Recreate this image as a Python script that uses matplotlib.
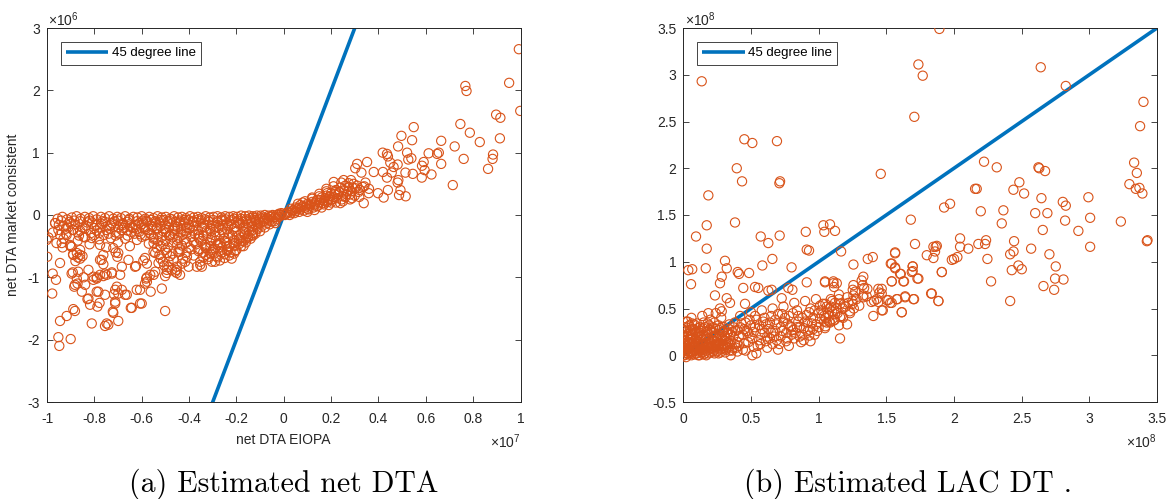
import matplotlib
matplotlib.use("Agg")
import matplotlib.pyplot as plt
from matplotlib.ticker import FuncFormatter

# ---------------- data: left panel (x in 1e7, y in 1e6) ----------------
L_top = [(-0.955,-0.06),(-0.935,-0.03),(-0.915,-0.07),(-0.895,-0.04),(-0.875,-0.02),(-0.858,-0.06),(-0.84,-0.03),(-0.822,-0.05),
         (-0.805,-0.02),(-0.79,-0.07),(-0.772,-0.03),(-0.755,-0.05),(-0.738,-0.02),(-0.72,-0.06),(-0.703,-0.03),(-0.688,-0.05),
         (-0.67,-0.02),(-0.652,-0.06),(-0.635,-0.03),(-0.618,-0.04),(-0.6,-0.02),(-0.585,-0.06),(-0.568,-0.03),(-0.55,-0.05),
         (-0.533,-0.02),(-0.515,-0.04),(-0.498,-0.03),(-0.48,-0.06),(-0.463,-0.02),(-0.446,-0.04),(-0.43,-0.03),(-0.413,-0.05),
         (-0.396,-0.02),(-0.38,-0.04),(-0.363,-0.03),(-0.347,-0.05),(-0.33,-0.02),(-0.313,-0.04),(-0.297,-0.03),(-0.28,-0.02),
         (-0.263,-0.04),(-0.247,-0.02),(-0.23,-0.03),(-0.213,-0.02),(-0.197,-0.03),(-0.18,-0.01),(-0.163,-0.02),(-0.147,-0.01),
         (-0.13,-0.02),(-0.113,-0.01),(-0.097,-0.01),(-0.08,0.0),(-0.063,-0.01),(-0.047,0.0),(-0.03,0.0),(-0.015,0.0),
         (-0.02,0.02),(-0.01,0.03),(0.0,0.01)]
L_row2 = [(-0.965,-0.13),(-0.93,-0.18),(-0.905,-0.11),(-0.88,-0.15),(-0.86,-0.1),(-0.835,-0.17),(-0.81,-0.12),(-0.79,-0.16),
          (-0.765,-0.1),(-0.745,-0.18),(-0.725,-0.13),(-0.7,-0.09),(-0.68,-0.16),(-0.66,-0.11),(-0.64,-0.19),(-0.62,-0.1),
          (-0.6,-0.15),(-0.58,-0.09),(-0.56,-0.17),(-0.54,-0.12),(-0.52,-0.08),(-0.5,-0.15),(-0.48,-0.1),(-0.46,-0.18),
          (-0.44,-0.12),(-0.42,-0.08),(-0.4,-0.16),(-0.38,-0.11),(-0.36,-0.07),(-0.34,-0.14),(-0.32,-0.09),(-0.3,-0.17),
          (-0.28,-0.1),(-0.26,-0.07),(-0.24,-0.13),(-0.22,-0.08),(-0.2,-0.12),(-0.18,-0.06),(-0.16,-0.1),(-0.14,-0.05),
          (-0.12,-0.08),(-0.1,-0.04),(-0.08,-0.06),(-0.06,-0.03),(-0.04,-0.04)]
L_row3 = [(-0.975,-0.28),(-0.952,-0.24),(-0.92,-0.3),(-0.89,-0.24),(-0.865,-0.33),(-0.84,-0.22),(-0.815,-0.29),(-0.79,-0.25),
          (-0.76,-0.32),(-0.735,-0.22),(-0.71,-0.28),(-0.685,-0.24),(-0.66,-0.33),(-0.635,-0.21),(-0.61,-0.27),(-0.585,-0.23),
          (-0.56,-0.31),(-0.535,-0.21),(-0.51,-0.26),(-0.485,-0.33),(-0.46,-0.22),(-0.435,-0.28),(-0.41,-0.2),(-0.385,-0.25),
          (-0.36,-0.31),(-0.335,-0.2),(-0.31,-0.26),(-0.285,-0.19),(-0.26,-0.24),(-0.235,-0.18),(-0.21,-0.22),(-0.185,-0.16),
          (-0.16,-0.19),(-0.135,-0.13),(-0.11,-0.15),(-0.085,-0.1),(-0.06,-0.09)]
L_row4 = [(-0.96,-0.45),(-0.93,-0.38),(-0.9,-0.5),(-0.87,-0.41),(-0.84,-0.36),(-0.82,-0.47),(-0.78,-0.39),(-0.75,-0.52),
          (-0.73,-0.37),(-0.7,-0.44),(-0.67,-0.38),(-0.65,-0.5),(-0.62,-0.4),(-0.6,-0.35),(-0.57,-0.46),(-0.55,-0.38),
          (-0.52,-0.5),(-0.5,-0.41),(-0.47,-0.36),(-0.45,-0.47),(-0.42,-0.39),(-0.4,-0.52),(-0.38,-0.43),(-0.36,-0.36),
          (-0.33,-0.48),(-0.31,-0.4),(-0.29,-0.33),(-0.27,-0.45),(-0.25,-0.37),(-0.23,-0.3),(-0.21,-0.4),(-0.19,-0.33),
          (-0.17,-0.27),(-0.15,-0.34),(-0.13,-0.24),(-0.11,-0.2),(-0.09,-0.17),(-0.07,-0.13),(-0.05,-0.1),(-0.03,-0.06),(-0.02,-0.03)]
L_rowA = [(-0.595,-0.09),(-0.578,-0.11),(-0.56,-0.08),(-0.543,-0.1),(-0.525,-0.12),(-0.508,-0.08),(-0.49,-0.1),(-0.473,-0.07),
          (-0.455,-0.11),(-0.438,-0.09),(-0.42,-0.12),(-0.403,-0.08),(-0.385,-0.1),(-0.368,-0.12),(-0.35,-0.09),(-0.333,-0.07),
          (-0.315,-0.11),(-0.298,-0.08),(-0.28,-0.12),(-0.263,-0.09),(-0.245,-0.07),(-0.228,-0.1),(-0.21,-0.06),(-0.193,-0.09),
          (-0.175,-0.11),(-0.158,-0.07),(-0.14,-0.09),(-0.123,-0.05),(-0.105,-0.07),(-0.088,-0.04),(-0.07,-0.05),(-0.053,-0.02),
          (-0.035,-0.03)]
L_rowB = [(-0.59,-0.2),(-0.572,-0.24),(-0.555,-0.19),(-0.537,-0.22),(-0.52,-0.18),(-0.502,-0.23),(-0.485,-0.2),(-0.467,-0.25),
          (-0.45,-0.19),(-0.432,-0.22),(-0.415,-0.26),(-0.397,-0.21),(-0.38,-0.18),(-0.362,-0.24),(-0.345,-0.2),(-0.327,-0.25),
          (-0.31,-0.22),(-0.292,-0.27),(-0.275,-0.21),(-0.257,-0.17),(-0.24,-0.23),(-0.222,-0.15),(-0.205,-0.19),(-0.187,-0.13),
          (-0.17,-0.2),(-0.152,-0.14),(-0.135,-0.18),(-0.117,-0.11),(-0.1,-0.13),(-0.082,-0.09),(-0.065,-0.07)]
L_rowC = [(-0.585,-0.33),(-0.567,-0.29),(-0.55,-0.36),(-0.532,-0.31),(-0.515,-0.35),(-0.497,-0.28),(-0.48,-0.33),(-0.462,-0.3),
          (-0.445,-0.37),(-0.427,-0.32),(-0.41,-0.29),(-0.392,-0.35),(-0.375,-0.31),(-0.357,-0.38),(-0.34,-0.33),(-0.322,-0.29),
          (-0.305,-0.36),(-0.287,-0.41),(-0.27,-0.32),(-0.252,-0.28),(-0.235,-0.36),(-0.217,-0.33),(-0.2,-0.27),(-0.182,-0.36),
          (-0.165,-0.31),(-0.147,-0.26),(-0.13,-0.29),(-0.112,-0.23)]
L_rowD = [(-0.55,-0.45),(-0.53,-0.42),(-0.51,-0.47),(-0.49,-0.52),(-0.47,-0.44),(-0.45,-0.4),(-0.43,-0.49),(-0.41,-0.44),
          (-0.39,-0.55),(-0.37,-0.47),(-0.35,-0.42),(-0.33,-0.51),(-0.31,-0.45),(-0.29,-0.54),(-0.27,-0.48),(-0.25,-0.42),
          (-0.23,-0.5),(-0.21,-0.45),(-0.19,-0.39),(-0.17,-0.42),(-0.15,-0.36),(-0.13,-0.33),
          (-0.5,-0.56),(-0.47,-0.62),(-0.44,-0.55),(-0.41,-0.6),(-0.38,-0.65),(-0.36,-0.58),(-0.33,-0.64),(-0.3,-0.6),
          (-0.28,-0.68),(-0.26,-0.6),(-0.24,-0.57),(-0.23,-0.65)]
L_farfill = [(-0.95,-0.16),(-0.92,-0.22),(-0.9,-0.14),(-0.87,-0.28),(-0.85,-0.2),(-0.83,-0.12),(-0.8,-0.21),(-0.78,-0.29),
             (-0.77,-0.14),(-0.75,-0.24),(-0.73,-0.17),(-0.71,-0.33),(-0.7,-0.2),(-0.68,-0.13),(-0.66,-0.25),(-0.65,-0.17),
             (-0.63,-0.3),(-0.62,-0.22),(-0.61,-0.13),
             (-0.94,-0.09),(-0.91,-0.2),(-0.885,-0.09),(-0.86,-0.25),(-0.82,-0.09),(-0.8,-0.32),(-0.775,-0.2),(-0.755,-0.11),
             (-0.74,-0.3),(-0.715,-0.1),(-0.695,-0.3),(-0.675,-0.21),(-0.655,-0.08),(-0.645,-0.27),(-0.625,-0.16),(-0.605,-0.31)]
L_cluster = [(-0.36,-0.55),(-0.34,-0.6),(-0.33,-0.53),(-0.31,-0.62),(-0.3,-0.56),(-0.285,-0.66),(-0.27,-0.58),(-0.26,-0.52),
             (-0.25,-0.63),(-0.235,-0.55),(-0.225,-0.6),(-0.21,-0.5),(-0.2,-0.56),(-0.19,-0.47),(-0.18,-0.42),(-0.17,-0.5),
             (-0.16,-0.38),(-0.22,-0.7),(-0.21,-0.62),(-0.32,-0.71),(-0.29,-0.75),(-0.27,-0.73),(-0.353,-0.8),(-0.353,-0.75),
             (-0.34,-0.68),(-0.315,-0.67),(-0.25,-0.69),(-0.24,-0.45),(-0.28,-0.48),(-0.31,-0.5),(-0.346,-0.83),(-0.304,-0.75),
             (-0.205,-0.58),(-0.134,-0.32),(-0.036,-0.13),(-0.18,-0.5),(-0.16,-0.44),(-0.14,-0.38),(-0.12,-0.3),(-0.1,-0.26),
             (-0.08,-0.2),(-0.06,-0.15),(-0.04,-0.1)]
L_fan = [(-1.001,-0.40),(-0.994,-0.36),(-0.999,-0.67),(-0.966,-0.13),(-0.945,-0.32),(-0.934,-0.52),(-0.945,-0.77),(-0.976,-0.94),
         (-0.962,-1.04),(-0.978,-1.26),(-0.945,-1.70),(-0.917,-1.62),(-0.952,-1.96),(-0.948,-2.10),(-0.9,-1.99),(-0.889,-1.51),
         (-0.882,-1.54),(-0.896,-0.94),(-0.874,-1.02),(-0.882,-1.12),(-0.853,-1.23),(-0.839,-1.12),(-0.825,-0.88),(-0.868,-0.91),
         (-0.874,-0.61),(-0.889,-0.64),(-0.896,-0.51),(-0.86,-0.64),(-0.938,-0.45),(-0.917,-0.32),(-0.889,-0.24),(-0.846,-0.35),
         (-0.811,-0.37),(-0.776,-0.48),(-0.769,-0.72),(-0.762,-0.64),(-0.825,-1.34),(-0.818,-1.44),(-0.811,-1.74),(-0.783,-1.23),
         (-0.755,-1.28),(-0.748,-1.74),(-0.755,-1.78),(-0.699,-1.70),(-0.722,-1.55),(-0.712,-1.42),(-0.804,-0.99),(-0.79,-1.02),
         (-0.776,-0.96),(-0.755,-0.94),(-0.726,-0.94),(-0.691,-0.96),(-0.705,-1.15),(-0.684,-1.20),(-0.663,-1.28),(-0.656,-0.72),
         (-0.684,-0.83),(-0.699,-0.61),(-0.703,-0.67),(-0.628,-0.83),(-0.621,-1.20),(-0.607,-1.42),(-0.642,-1.49),(-0.586,-0.69),
         (-0.581,-1.02),(-0.578,-1.07),(-0.564,-0.96),(-0.543,-0.91),(-0.543,-0.61),(-0.529,-0.77),(-0.515,-1.18),(-0.501,-1.54),
         (-0.487,-0.75),(-0.487,-0.83),(-0.473,-0.88),(-0.459,-0.91),(-0.438,-0.96),(-0.452,-0.83),(-0.416,-0.75),(-0.409,-0.67),
         (-0.445,-0.59),(-0.494,-0.61),(-0.367,-0.83),(-0.89,-0.63),(-0.87,-0.68),(-0.86,-0.70),(-0.85,-0.66),(-0.88,-0.74),
         (-0.903,-0.48),(-0.86,-0.56),(-0.891,-0.92),(-0.846,-1.0),(-0.885,-1.15),(-0.871,-1.10),(-0.829,-1.35),(-0.79,-1.23),
         (-0.804,-1.04),(-0.79,-1.0),(-0.762,-0.98),(-0.748,-0.96),(-0.778,-1.41),(-0.787,-1.47),(-0.741,-1.76),(-0.72,-1.57),
         (-0.712,-1.39),(-0.712,-1.2),(-0.699,-1.26),(-0.717,-1.27),(-0.67,-1.28),(-0.726,-0.92),(-0.776,-0.72),(-0.762,-0.79),
         (-0.72,-0.53),(-0.71,-0.6),(-0.624,-0.82),(-0.578,-0.78),(-0.593,-0.73),(-0.607,-1.2),(-0.586,-1.1),(-0.578,-1.0),
         (-0.6,-1.42),(-0.646,-1.49),(-0.562,-1.23),(-0.55,-0.96),(-0.55,-0.59),(-0.536,-0.53),(-0.525,-0.64),(-0.52,-0.70),
         (-0.51,-0.75),(-0.505,-0.81),(-0.494,-0.88),(-0.48,-0.66),(-0.466,-0.72),(-0.452,-0.88),(-0.452,-0.93),(-0.494,-0.93),
         (-0.501,-0.98),(-0.44,-0.59),(-0.426,-0.70),(-0.43,-0.78),(-0.402,-0.83)]
L_posband = [(0.01,0.02),(0.02,0.05),(0.03,0.03),(0.04,0.08),(0.05,0.06),(0.06,0.11),(0.07,0.09),(0.08,0.14),(0.09,0.12),
             (0.1,0.18),(0.11,0.15),(0.12,0.21),(0.13,0.17),(0.14,0.24),(0.15,0.2),(0.16,0.28),(0.17,0.23),(0.18,0.31),
             (0.19,0.26),(0.2,0.35),(0.21,0.29),(0.22,0.4),(0.23,0.33),(0.24,0.44),(0.25,0.3),(0.26,0.47),(0.12,0.26),
             (0.15,0.3),(0.08,0.2),(0.18,0.38),(0.05,0.12),(0.1,0.1),(0.14,0.14),(0.17,0.17),(0.2,0.2),(0.03,0.1),
             (0.07,0.16),(0.27,0.38),(0.28,0.33),(0.29,0.44),
             (0.005,0.0),(0.015,0.04),(0.025,0.0),(0.035,0.06),(0.045,0.03),(0.055,0.09),(0.065,0.05),(0.075,0.12),
             (0.085,0.07),(0.095,0.15),(0.105,0.09),(0.115,0.18),(0.125,0.12),(0.135,0.2),(0.145,0.15),(0.155,0.24),
             (0.165,0.19),(0.175,0.27),(0.185,0.21),(0.195,0.3),(0.205,0.25),(0.215,0.34),(0.225,0.27),(0.235,0.37),
             (0.245,0.25),(0.255,0.4),(0.265,0.33),(0.275,0.45),(0.285,0.38),(0.295,0.5),(0.3,0.31),(0.31,0.47),
             (0.32,0.4),(0.34,0.46),(0.36,0.42),(0.1,0.05),(0.13,0.08),(0.16,0.12),(0.19,0.16),(0.22,0.2),(0.25,0.22),
             (0.28,0.25),(0.06,0.18),(0.09,0.22),(0.12,0.28),(0.15,0.34),(0.18,0.42),(0.21,0.46)]
L_posout = [(0.993,2.66),(0.952,2.12),(0.767,2.07),(0.772,1.99),(0.999,1.67),(0.897,1.61),(0.915,1.56),(0.746,1.46),
            (0.786,1.32),(0.828,1.17),(0.913,1.23),(0.722,1.10),(0.665,1.19),(0.549,1.41),(0.497,1.27),(0.542,1.20),
            (0.483,1.10),(0.521,1.00),(0.526,0.89),(0.539,0.91),(0.418,1.00),(0.436,0.98),(0.44,0.94),(0.612,0.99),
            (0.648,0.98),(0.655,1.0),(0.665,0.82),(0.76,0.90),(0.884,0.97),(0.882,0.90),(0.863,0.74),(0.714,0.48),
            (0.591,0.85),(0.584,0.79),(0.595,0.72),(0.624,0.65),(0.583,0.60),(0.545,0.66),(0.514,0.68),(0.481,0.81),
            (0.464,0.77),(0.45,0.84),(0.456,0.68),(0.484,0.56),(0.481,0.52),(0.493,0.40),(0.515,0.30),(0.487,0.32),
            (0.44,0.40),(0.422,0.28),(0.419,0.69),(0.436,0.60),(0.398,0.35),(0.352,0.85),(0.31,0.82),(0.302,0.75),
            (0.328,0.68),(0.38,0.69),(0.345,0.52),(0.333,0.45),(0.359,0.35),(0.338,0.19),(0.319,0.29),(0.288,0.27),
            (0.274,0.51),(0.284,0.56),(0.253,0.56),(0.243,0.52),(0.211,0.53),(0.218,0.37),(0.239,0.19),(0.26,0.29),
            (0.302,0.43),(0.316,0.37),(0.197,0.24),(0.183,0.35)]
L_groups = [L_top, L_row2, L_row3, L_row4, L_rowA, L_rowB, L_rowC, L_rowD, L_farfill,
            L_cluster, L_fan, L_posband, L_posout]

# ---------------- data: right panel (x in 1e8, y in 1e8) ----------------
R_origin = [(0.0,0.0),(0.01,0.05),(0.02,0.1),(0.01,0.15),(0.03,0.02),(0.04,0.07),(0.03,0.2),(0.05,0.13),(0.06,0.0),
            (0.07,0.04),(0.06,0.18),(0.08,0.09),(0.09,0.24),(0.1,0.02),(0.11,0.14),(0.12,0.06),(0.13,0.2),(0.14,0.1),
            (0.15,0.01),(0.16,0.16),(0.17,0.05),(0.18,0.25),(0.19,0.12),(0.2,0.03),(0.21,0.19),(0.22,0.08),(0.23,0.15),
            (0.24,0.28),(0.25,0.04),(0.26,0.11),(0.27,0.22),(0.28,0.07),(0.29,0.17),(0.3,0.3),(0.02,0.3),(0.05,0.27),
            (0.08,0.33),(0.12,0.3),(0.15,0.35),(0.0,0.22),(0.0,0.08),(0.02,-0.02),(0.04,0.04),(0.08,0.01),(0.12,0.0),
            (0.16,0.08),(0.1,0.08),(0.14,0.03),(0.04,0.12),(0.07,0.22),(0.02,0.36),(0.06,0.4),(0.1,0.34),(0.14,0.42),
            (0.2,0.38),(0.24,0.45),(0.28,0.4),(0.0,0.3)]
R_origin2 = [(0.01,0.0),(0.03,0.08),(0.05,0.03),(0.07,0.1),(0.09,0.05),(0.11,0.0),(0.13,0.07),(0.15,0.12),(0.17,0.0),
             (0.19,0.06),(0.21,0.1),(0.23,0.02),(0.25,0.13),(0.27,0.06),(0.29,0.1),(0.31,0.03),(0.33,0.08),(0.35,0.0),
             (0.01,0.1),(0.03,0.14),(0.05,0.19),(0.07,0.13),(0.09,0.17),(0.11,0.22),(0.13,0.14),(0.15,0.18),(0.17,0.22),
             (0.19,0.18),(0.21,0.25),(0.23,0.21),(0.25,0.17),(0.27,0.13),(0.29,0.25),(0.31,0.2),(0.33,0.14),(0.35,0.22),
             (0.0,0.04),(0.02,0.06),(0.04,0.01),(0.06,0.08),(0.08,0.05),(0.1,0.12),(0.12,0.1),(0.14,0.06),(0.16,0.02),
             (0.18,0.09),(0.2,0.14),(0.22,0.04),(0.24,0.09),(0.26,0.02),(0.28,0.15),(0.3,0.08),(0.32,0.11),(0.34,0.05),
             (0.01,0.26),(0.04,0.23),(0.07,0.28),(0.1,0.25),(0.13,0.26),(0.16,0.3),(0.19,0.32),(0.22,0.3),(0.26,0.32),
             (0.3,0.26),(0.34,0.28),(0.37,0.2),(0.38,0.12),(0.4,0.04)]
R_origin3 = [(0.005,0.02),(0.015,0.12),(0.025,0.05),(0.035,0.17),(0.045,0.09),(0.055,0.22),(0.065,0.02),(0.075,0.15),
             (0.085,0.27),(0.095,0.1),(0.105,0.19),(0.115,0.04),(0.125,0.24),(0.135,0.12),(0.145,0.29),(0.155,0.06),
             (0.165,0.2),(0.175,0.13),(0.185,0.02),(0.195,0.27),(0.205,0.08),(0.215,0.16),(0.225,0.24),(0.235,0.06),
             (0.245,0.2),(0.255,0.1),(0.265,0.27),(0.275,0.03),(0.285,0.2),(0.295,0.12),(0.305,0.16),(0.315,0.06),
             (0.325,0.24),(0.345,0.12),(0.365,0.08),(0.385,0.26),(0.005,0.19),(0.025,0.25),(0.045,0.32),(0.065,0.34),
             (0.11,0.29),(0.18,0.34),(0.23,0.35),(0.27,0.29)]
R_band = [(0.31,0.1),(0.33,0.24),(0.35,0.15),(0.37,0.3),(0.39,0.08),(0.41,0.2),(0.43,0.34),(0.45,0.13),(0.47,0.26),
          (0.49,0.38),(0.51,0.18),(0.53,0.3),(0.55,0.1),(0.57,0.23),(0.59,0.36),(0.61,0.15),(0.63,0.28),(0.65,0.42),
          (0.67,0.2),(0.69,0.33),(0.71,0.12),(0.73,0.26),(0.75,0.4),(0.77,0.18),(0.79,0.31),(0.81,0.45),(0.83,0.24),
          (0.85,0.36),(0.87,0.14),(0.89,0.29),(0.91,0.43),(0.93,0.21),(0.95,0.34),(0.97,0.48),(0.99,0.26),(1.01,0.39),
          (1.03,0.55),(1.05,0.31),(1.07,0.45),(1.09,0.6),(1.11,0.37),(1.13,0.5),(1.15,0.65),(1.17,0.42),(1.19,0.55),
          (1.21,0.62),(1.23,0.47),(1.25,0.58),(1.27,0.68),(1.3,0.53),(1.33,0.62),(1.36,0.71),(1.39,0.57),
          (0.32,0.18),(0.36,0.05),(0.4,0.27),(0.44,0.22),(0.48,0.14),(0.52,0.25),(0.56,0.32),(0.6,0.24),(0.64,0.18),
          (0.68,0.38),(0.72,0.3),(0.76,0.24),(0.8,0.22),(0.84,0.3),(0.88,0.4),(0.92,0.35),(0.96,0.28),(1.0,0.45),
          (1.04,0.42),(1.08,0.36),(1.12,0.44),(1.16,0.55),(0.34,0.33),(0.42,0.42),(0.5,0.46),(0.58,0.48),(0.66,0.5),
          (0.74,0.52),(0.82,0.56),(0.9,0.58),(0.98,0.6),(0.46,0.05),(0.54,0.02),(0.62,0.08),(0.7,0.06),(0.78,0.1),
          (0.86,0.2),(0.94,0.15)]
R_band2 = [(0.36,0.25),(0.38,0.35),(0.4,0.14),(0.42,0.3),(0.44,0.06),(0.46,0.35),(0.48,0.24),(0.5,0.32),(0.52,0.09),
           (0.54,0.38),(0.56,0.16),(0.58,0.28),(0.6,0.4),(0.62,0.2),(0.64,0.35),(0.66,0.12),(0.68,0.26),(0.7,0.44),
           (0.72,0.2),(0.74,0.36),(0.76,0.15),(0.78,0.42),(0.8,0.3),(0.82,0.18),(0.84,0.48),(0.86,0.3),(0.88,0.22),
           (0.9,0.36),(0.92,0.26),(0.94,0.5),(0.96,0.4),(0.98,0.33),(1.0,0.3),(1.02,0.48),(1.04,0.36),(1.06,0.52),
           (1.08,0.42),(1.1,0.47),(1.12,0.56),(1.14,0.45),(1.18,0.5),(1.22,0.56),(1.26,0.5),(1.28,0.6),
           (0.41,0.1),(0.45,0.28),(0.49,0.2),(0.53,0.42),(0.57,0.12),(0.61,0.33),(0.65,0.24),(0.69,0.16),(0.73,0.44),
           (0.77,0.34),(0.81,0.27),(0.85,0.42),(0.89,0.16),(0.93,0.46),(0.97,0.22),(1.01,0.53),(1.05,0.4),(1.09,0.52)]
R_mid = [(0.929,1.12),(0.037,0.91),(0.066,0.92),(0.166,0.93),(0.308,1.01),(0.321,0.93),(0.402,0.89),(0.412,0.87),
         (0.486,0.88),(0.584,0.96),(0.658,1.03),(0.284,0.84),(0.271,0.77),(0.057,0.76),(0.443,0.72),(0.53,0.73),
         (0.628,0.69),(0.776,0.72),(0.806,0.70),(0.80,0.94),(0.912,0.78),(1.047,0.78),(0.234,0.64),(0.321,0.61),
         (0.345,0.56),(0.271,0.50),(0.284,0.47),(0.456,0.55),(0.185,0.45),(0.033,0.36),(0.727,0.61),(0.51,0.00),
         (0.936,0.27),(1.047,0.29),(1.084,0.35),(1.134,0.77),(1.232,0.45),(1.158,0.41),(0.554,0.72),(0.653,0.70),
         (1.109,0.77),(0.912,1.13),
         (1.166,1.11),(1.565,1.10),(1.533,0.98),(1.565,0.93),(1.602,0.87),(1.626,0.79),(1.54,0.79),(1.695,0.95),
         (1.695,0.90),(1.73,0.82),(1.91,0.89),(1.363,1.03),(1.40,1.05),(1.257,0.97),(1.33,0.84),(1.318,0.80),
         (1.047,0.79),(1.109,0.79),(1.114,0.73),(1.257,0.75),(1.252,0.70),(1.257,0.64),(1.326,0.75),(1.336,0.72),
         (1.33,0.64),(1.355,0.63),(1.441,0.71),(1.449,0.67),(1.429,0.60),(1.441,0.57),(1.409,0.58),(1.515,0.59),
         (1.54,0.56),(1.582,0.60),(1.639,0.63),(1.705,0.60),(1.474,0.48),(1.614,0.46),(1.404,0.42),(1.836,0.66),
         (1.885,0.58),(1.05,0.55),(1.1,0.58),(1.15,0.6),(1.2,0.52),(1.08,0.5),(1.25,0.55),(1.06,0.35),(1.12,0.38),
         (1.18,0.4),(1.15,0.32),(1.21,0.33),(1.158,0.18)]
R_far = [(0.136,2.93),(0.451,2.31),(0.51,2.27),(0.692,2.29),(0.395,2.00),(0.434,1.86),(0.715,1.86),(0.71,1.84),
         (0.185,1.71),(1.459,1.94),(0.094,1.27),(0.173,1.39),(0.382,1.42),(0.572,1.27),(0.628,1.20),(0.712,1.28),
         (0.905,1.32),(1.035,1.39),(1.042,1.32),(1.084,1.40),(1.121,1.33),(0.173,1.14),
         (1.892,3.49),(1.737,3.11),(1.769,2.99),(2.641,3.08),(2.826,2.88),(3.40,2.71),(3.375,2.45),(1.707,2.55),
         (2.222,2.07),(2.316,2.01),(2.624,2.01),(2.63,2.00),(2.673,1.97),(3.331,2.06),(3.351,1.95),(3.296,1.83),
         (3.343,1.78),(3.37,1.79),(3.392,1.73),(2.483,1.85),(2.439,1.77),(2.518,1.73),(2.156,1.78),(2.168,1.78),
         (2.646,1.68),(1.971,1.62),(1.927,1.58),(2.198,1.54),(2.365,1.55),(2.804,1.64),(2.826,1.60),(2.993,1.69),
         (2.60,1.52),(2.69,1.52),(1.681,1.45),(2.353,1.41),(2.821,1.44),(3.006,1.47),(3.233,1.43),(2.656,1.34),
         (2.919,1.33),(3.43,1.23),(1.712,1.19),(2.045,1.25),(2.237,1.23),(2.18,1.19),(2.444,1.22),(1.865,1.16),
         (3.006,1.16),(1.848,1.16),(1.873,1.17),(2.045,1.16),(2.106,1.14),(2.23,1.19),(2.415,1.08),(2.44,1.11),
         (2.57,1.14),(2.705,1.08),(3.425,1.22),(1.565,1.09),(1.799,1.07),(1.848,1.04),(1.86,1.11),(1.984,1.02),
         (2.0,1.03),(2.025,1.05),(2.247,1.03),(1.54,0.98),(1.565,0.94),(1.695,0.95),(1.688,0.89),(1.607,0.87),
         (1.91,0.89),(2.476,0.96),(2.501,0.92),(2.427,0.91),(2.752,0.95),(1.54,0.79),(1.631,0.79),(1.737,0.82),
         (2.274,0.79),(2.747,0.82),(2.809,0.81),(2.661,0.74),(2.74,0.70),(1.466,0.71),(1.466,0.66),(1.503,0.59),
         (1.528,0.56),(1.577,0.60),(1.639,0.62),(1.70,0.60),(1.831,0.66),(1.885,0.58),(1.466,0.48),(1.614,0.46),
         (2.415,0.58)]
R_groups = [R_origin, R_origin2, R_origin3, R_band, R_band2, R_mid, R_far]

# axis definitions
L_xticks = [-1, -0.8, -0.6, -0.4, -0.2, 0, 0.2, 0.4, 0.6, 0.8, 1]
L_yticks = [-3, -2, -1, 0, 1, 2, 3]
R_xticks = [0, 0.5, 1, 1.5, 2, 2.5, 3, 3.5]
R_yticks = [-0.5, 0, 0.5, 1, 1.5, 2, 2.5, 3, 3.5]
L_xscale, L_yscale = 1e7, 1e6
R_scale = 1e8
diag_left = [-1e7, 1e7]
diag_right = [0, 3.5e8]

ORANGE = "#D95319"
BLUE = "#0072BD"
AXC = "#262626"

plt.rcParams["font.family"] = ["Liberation Sans", "DejaVu Sans"]
plt.rcParams["mathtext.fontset"] = "custom"
plt.rcParams["mathtext.rm"] = "Liberation Sans"
plt.rcParams["mathtext.it"] = "Liberation Sans:italic"

W, H = 1167, 499
fig = plt.figure(figsize=(W / 100, H / 100), dpi=100)

def fx(px):
    return px / W

def fy(py):
    return 1 - py / H

axL = fig.add_axes([fx(47), fy(402), (520.5 - 47) / W, 374 / H])
axR = fig.add_axes([fx(683.3), fy(402), (1157 - 683.3) / W, 374 / H])

def fmt(scale):
    return FuncFormatter(lambda v, p: f"{round(v / scale, 6) + 0.0:g}")

def style(ax, xt, yt, xs, ys):
    ax.set_xticks([t * xs for t in xt])
    ax.set_yticks([t * ys for t in yt])
    ax.xaxis.set_major_formatter(fmt(xs))
    ax.yaxis.set_major_formatter(fmt(ys))
    ax.tick_params(direction="in", top=True, right=True, length=4.5, width=0.6,
                   colors=AXC, labelsize=10)
    ax.tick_params(axis="x", pad=7)
    ax.tick_params(axis="y", pad=5)
    for s in ax.spines.values():
        s.set_color(AXC)
        s.set_linewidth(0.7)

def draw(ax, groups, xs, ys, diag):
    ax.plot(diag, diag, color=BLUE, lw=2.6, label="45 degree line", zorder=2,
            solid_capstyle="butt")
    for g in groups:
        ax.scatter([p[0] * xs for p in g], [p[1] * ys for p in g], s=44,
                   facecolors="none", edgecolors=ORANGE, linewidths=0.8, zorder=3)
    leg = ax.legend(loc="upper left", bbox_to_anchor=(0.029, 0.963), borderaxespad=0,
                    fontsize=9.5, fancybox=False, framealpha=1, edgecolor=AXC,
                    handlelength=3.2, handletextpad=0.25, borderpad=0.4)
    leg.get_frame().set_linewidth(0.6)

draw(axL, L_groups, L_xscale, L_yscale, diag_left)
axL.set_xlim(-1e7, 1e7)
axL.set_ylim(-3e6, 3e6)
style(axL, L_xticks, L_yticks, L_xscale, L_yscale)

draw(axR, R_groups, R_scale, R_scale, diag_right)
axR.set_xlim(0, 3.5e8)
axR.set_ylim(-0.5e8, 3.5e8)
style(axR, R_xticks, R_yticks, R_scale, R_scale)

# exponent labels
fig.text(fx(48), fy(20), r"$\times10^{6}$", fontsize=10, color=AXC, ha="left", va="center")
fig.text(fx(685), fy(20), r"$\times10^{8}$", fontsize=10, color=AXC, ha="left", va="center")
fig.text(fx(520.5), fy(442), r"$\times10^{7}$", fontsize=10, color=AXC, ha="right", va="center")
fig.text(fx(1157), fy(442), r"$\times10^{8}$", fontsize=10, color=AXC, ha="right", va="center")

# axis labels
fig.text(fx(283.5), fy(440), "net DTA EIOPA", fontsize=10, color=AXC, ha="center", va="center")
fig.text(fx(13), fy(215), "net DTA market consistent", fontsize=10, color=AXC,
         ha="center", va="center", rotation=90)

# captions
fig.text(fx(283.5), fy(492), "(a) Estimated net DTA", fontsize=21.5, family="cmr10",
         ha="center", va="baseline")
fig.text(fx(908), fy(492), "(b) Estimated LAC DT .", fontsize=21.5, family="cmr10",
         ha="center", va="baseline")

fig.savefig("out.png", dpi=100)
